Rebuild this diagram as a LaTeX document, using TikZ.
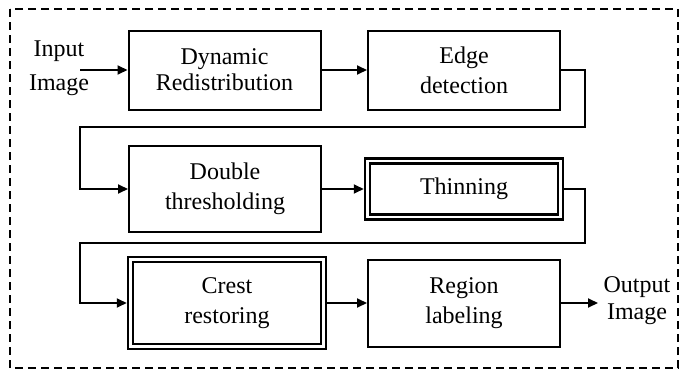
\documentclass[tikz,border=0pt]{standalone}
\usepackage{fontspec}
\setmainfont{Liberation Serif}
\usetikzlibrary{arrows.meta}
\begin{document}
\begin{tikzpicture}[x=1pt,y=-1pt,
  txt/.style={font=\fontsize{24}{30}\selectfont, align=center, inner sep=0pt},
  stepbox/.style={txt, draw, line width=2pt, minimum width=192pt},
  dblbox/.style={txt, draw, line width=2.5pt, double, double distance=2.5pt, outer sep=3.75pt, minimum width=193pt},
  conn/.style={line width=2pt, -{Triangle[length=10pt,width=9pt]}}
]
\useasboundingbox (0,0) rectangle (681,372);
\draw[line width=1.5pt, dash pattern=on 8pt off 5pt] (10,9) rectangle (678,368);

\node[stepbox, minimum height=79pt, font=\fontsize{24}{26}\selectfont] (b1) at (224.5,70) {Dynamic\\Redistribution};
\node[stepbox, minimum height=79pt] (b2) at (464,70) {Edge\\detection};
\node[stepbox, minimum height=86pt] (b3) at (225,189) {Double\\thresholding};
\node[dblbox, minimum height=56pt] (b4) at (464,189) {Thinning};
\node[dblbox, minimum height=87pt] (b5) at (227,303) {Crest\\restoring};
\node[stepbox, minimum height=87pt] (b6) at (464,303) {Region\\labeling};

\node[txt, font=\fontsize{24}{34}\selectfont] (in) at (59,68) {Input\\Image};
\node[txt, font=\fontsize{24}{27}\selectfont] (out) at (637,301) {Output\\Image};

\coordinate (ins) at (80,70);
\coordinate (oute) at (598,303);
\coordinate (c1) at (585,127);
\coordinate (c2) at (80,127);
\coordinate (c3) at (585,243);
\coordinate (c4) at (80,243);

\draw[conn] (ins) -- (b1.west);
\draw[conn] (b1.east) -- (b2.west);
\draw[conn] (b2.east) -| (c1) -- (c2) |- (b3.west);
\draw[conn] (b3.east) -- (b4.west);
\draw[conn] (b4.east) -| (c3) -- (c4) |- (b5.west);
\draw[conn] (b5.east) -- (b6.west);
\draw[conn] (b6.east) -- (oute);
\end{tikzpicture}
\end{document}
